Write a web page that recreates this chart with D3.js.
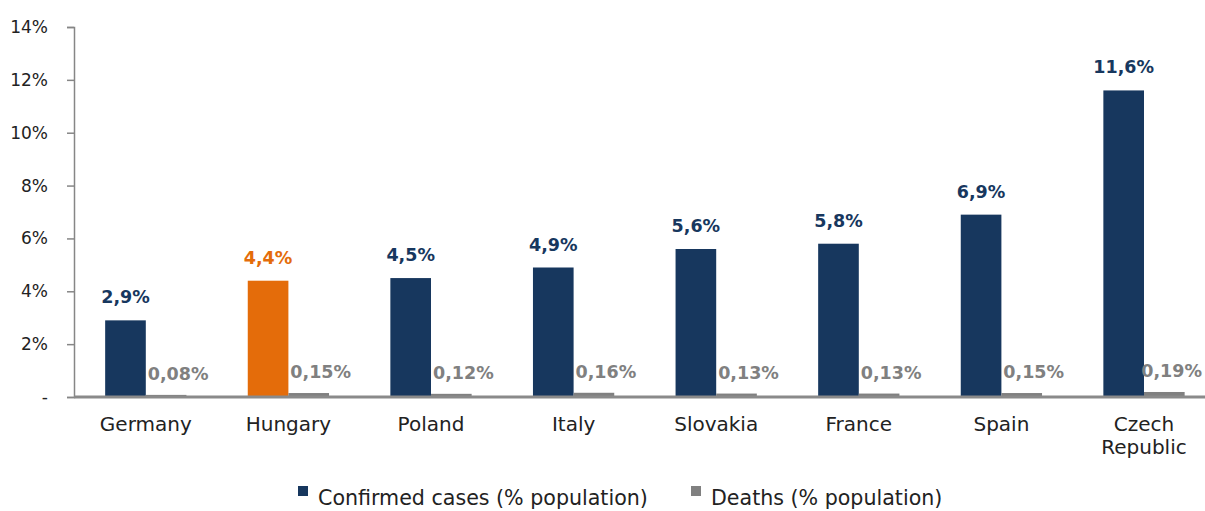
<!DOCTYPE html>
<html><head><meta charset="utf-8">
<script src="https://cdn.jsdelivr.net/npm/d3@7"></script>
<style>body{margin:0;background:#fff}svg{display:block}</style>
</head><body>
<script>
const categories = ["Germany","Hungary","Poland","Italy","Slovakia","France","Spain","Czech Republic"];
const confirmed = [2.9,4.4,4.5,4.9,5.6,5.8,6.9,11.6];
const deaths = [0.08,0.15,0.12,0.16,0.13,0.13,0.15,0.19];
const confirmedLabels = ["2,9%","4,4%","4,5%","4,9%","5,6%","5,8%","6,9%","11,6%"];
const deathLabels = ["0,08%","0,15%","0,12%","0,16%","0,13%","0,13%","0,15%","0,19%"];
const yTicks = [0,2,4,6,8,10,12,14];
const seriesNames = ["Confirmed cases (% population)","Deaths (% population)"];

const W=1205,H=511;
const font='"DejaVu Sans", sans-serif';
const navy="#17375E", orange="#E46C0A", gray="#808080";
const svg=d3.select("body").append("svg").attr("width",W).attr("height",H);

const y=d3.scaleLinear().domain([0,14]).range([397,27]);
const x=d3.scaleBand().domain(categories).range([74.5,1215.3]).paddingInner(0.43).paddingOuter(0.215);
const xs=d3.scaleBand().domain([0,1]).range([0,x.bandwidth()]);

// y axis
const yAxis=d3.axisLeft(y).tickValues(yTicks).tickSize(7).tickPadding(19)
  .tickFormat(d=>d===0?"-":d+"%");
const gy=svg.append("g").attr("transform","translate(74,0)").call(yAxis);
gy.select(".domain").attr("stroke","#868686").attr("stroke-width",1.5);
gy.selectAll(".tick line").attr("stroke","#868686").attr("stroke-width",1.5);
gy.selectAll(".tick text").attr("font-family",font).attr("font-size",17).attr("fill","#222");

// bars
const g=svg.append("g");
g.selectAll(".c").data(categories).join("rect")
  .attr("x",(d)=>x(d)+xs(0)).attr("width",xs.bandwidth())
  .attr("y",(d,i)=>y(confirmed[i])).attr("height",(d,i)=>y(0)-y(confirmed[i]))
  .attr("fill",(d,i)=>i===1?orange:navy);
g.selectAll(".d").data(categories).join("rect")
  .attr("x",(d)=>x(d)+xs(1)).attr("width",xs.bandwidth())
  .attr("y",(d,i)=>y(deaths[i])).attr("height",(d,i)=>y(0)-y(deaths[i]))
  .attr("fill",gray);

// baseline
svg.append("line").attr("x1",74).attr("x2",W).attr("y1",y(0)).attr("y2",y(0))
  .attr("stroke","#8a8a8a").attr("stroke-width",3);

// labels
g.selectAll(".cl").data(categories).join("text")
  .attr("x",d=>x(d)+xs(0)+xs.bandwidth()/2).attr("y",(d,i)=>y(confirmed[i])-17)
  .attr("text-anchor","middle").attr("font-family",font).attr("font-size",17.5).attr("font-weight","bold")
  .attr("fill",(d,i)=>i===1?orange:navy).text((d,i)=>confirmedLabels[i]);
g.selectAll(".dl").data(categories).join("text")
  .attr("x",d=>x(d)+xs(1)+xs.bandwidth()/2+12).attr("y",(d,i)=>y(deaths[i])-15)
  .attr("text-anchor","middle").attr("font-family",font).attr("font-size",17.5).attr("font-weight","bold")
  .attr("fill",gray).text((d,i)=>deathLabels[i])
  .each(function(){
    const len=this.getComputedTextLength();
    const cx=+this.getAttribute("x");
    if(cx+len/2>W-3) this.setAttribute("x",W-3-len/2);
  });

// category labels
categories.forEach(c=>{
  const words=c==="Czech Republic"?["Czech","Republic"]:[c];
  const t=svg.append("text").attr("text-anchor","middle").attr("font-family",font).attr("font-size",20).attr("fill","#222");
  words.forEach((w,k)=>t.append("tspan").attr("x",x(c)+x.bandwidth()/2).attr("y",431+k*23).text(w));
});

// legend
const leg=[{name:seriesNames[0],color:navy,x:298},{name:seriesNames[1],color:gray,x:691}];
leg.forEach(l=>{
  svg.append("rect").attr("x",l.x).attr("y",486).attr("width",10).attr("height",10).attr("fill",l.color);
  svg.append("text").attr("x",l.x+20).attr("y",505).attr("font-family",font).attr("font-size",20.6).attr("fill","#222").text(l.name);
});
</script>
</body></html>
